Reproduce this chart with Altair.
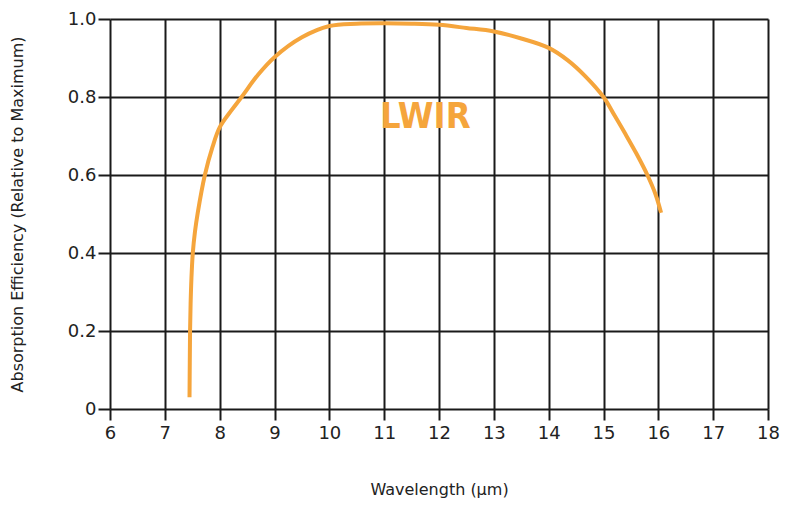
import altair as alt
import pandas as pd

wavelength = [7.45, 7.455, 7.46, 7.47, 7.485, 7.51, 7.55, 7.60, 7.73, 7.87, 8.0, 8.2, 8.4, 8.7, 9.0, 9.5,
              10.0, 10.5, 11.0, 11.5, 12.0, 12.5, 13.0, 13.5, 14.0, 14.35, 14.67, 15.0,
              15.2, 15.4, 15.6, 15.8, 15.95, 16.05]
efficiency = [0.03, 0.12, 0.2, 0.27, 0.335, 0.4, 0.455, 0.503, 0.6, 0.672, 0.722, 0.763, 0.8, 0.857, 0.902, 0.953,
              0.982, 0.988, 0.989, 0.988, 0.985, 0.977, 0.968, 0.950, 0.926, 0.894, 0.853, 0.8,
              0.753, 0.705, 0.655, 0.6, 0.55, 0.503]
x_ticks = list(range(6, 19))
y_ticks = [0, 0.2, 0.4, 0.6, 0.8, 1.0]
label_text = ["LWIR"]
label_x = [11.75]
label_y = [0.748]

df = pd.DataFrame({"x": wavelength, "y": efficiency})
lab = pd.DataFrame({"x": label_x, "y": label_y, "t": label_text})

FONT = "DejaVu Sans"
ORANGE = "#F5A53C"

x_scale = alt.Scale(domain=[6, 18], nice=False, zero=False)
y_scale = alt.Scale(domain=[0, 1], nice=False)

line = alt.Chart(df).mark_line(color=ORANGE, strokeWidth=4, interpolate="catmull-rom").encode(
    x=alt.X("x:Q", scale=x_scale,
            axis=alt.Axis(title="Wavelength (µm)", values=x_ticks, format="d", labelFlush=False,
                          grid=True, gridColor="#1a1a1a", gridWidth=2, gridOpacity=1,
                          domain=False, ticks=True, tickSize=11, tickColor="#1a1a1a", tickWidth=2,
                          labelFont=FONT, labelFontSize=18, labelColor="#222", labelPadding=4,
                          titleFont=FONT, titleFontSize=16, titleFontWeight="normal",
                          titleColor="#222", titlePadding=39)),
    y=alt.Y("y:Q", scale=y_scale,
            axis=alt.Axis(title="Absorption Efficiency (Relative to Maximum)", values=y_ticks,
                          labelExpr="datum.value == 0 ? '0' : format(datum.value, '.1f')",
                          grid=True, gridColor="#1a1a1a", gridWidth=2, gridOpacity=1,
                          domain=False, ticks=True, tickSize=12, tickColor="#1a1a1a", tickWidth=2,
                          labelFont=FONT, labelFontSize=18, labelColor="#222", labelPadding=2,
                          titleFont=FONT, titleFontSize=16, titleFontWeight="normal",
                          titleColor="#222", titlePadding=42)),
)

text = alt.Chart(lab).mark_text(color=ORANGE, font="Liberation Sans Narrow, DejaVu Sans Condensed, DejaVu Sans",
                                fontSize=36, fontWeight="bold", align="center", baseline="middle").encode(
    x=alt.X("x:Q", scale=x_scale),
    y=alt.Y("y:Q", scale=y_scale),
    text="t:N",
)

chart = (line + text).properties(
    width=658, height=390, autosize="none",
    padding={"left": 102, "top": 11, "right": 12, "bottom": 91},
    background="white",
).configure_view(stroke=None)

chart.save("out.html", embed_options={"renderer": "svg", "actions": False})
